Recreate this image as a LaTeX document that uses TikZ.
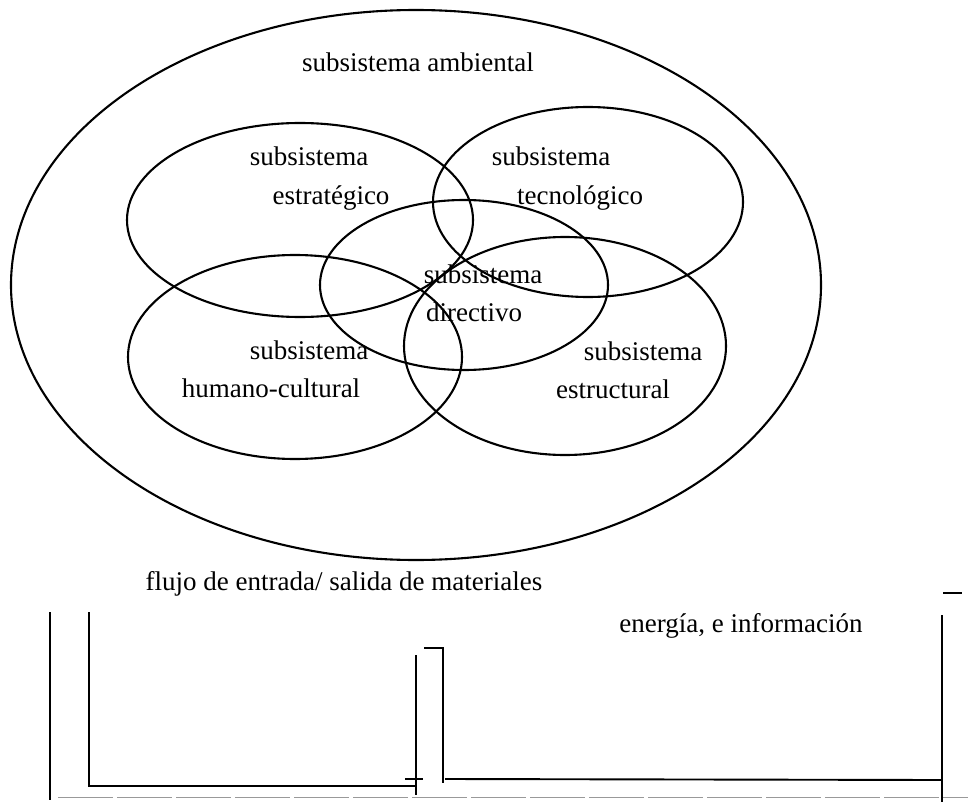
\documentclass[tikz,border=0pt]{standalone}
\usepackage{fontspec}
\setmainfont{Liberation Serif}
\usetikzlibrary{shapes.geometric}
\begin{document}
\begin{tikzpicture}[x=1pt,y=-1pt,
  sub/.style={draw=black,line width=2.1pt,ellipse,inner sep=0pt},
  lbl/.style={inner sep=0pt,text height=12pt,text depth=0pt,font=\fontsize{27}{32}\selectfont},
  ln/.style={line width=1.9pt},
  thin/.style={draw=gray!80,line width=0.8pt,dash pattern=on 55pt off 4pt}]
\useasboundingbox (0,0) rectangle (968,802);
% ellipses
\node[sub,minimum width=810pt,minimum height=550pt] (amb) at (416,285) {};
\node[sub,minimum width=346pt,minimum height=194pt] (est) at (300,220) {};
\node[sub,minimum width=310pt,minimum height=190pt] (tec) at (588,202) {};
\node[sub,minimum width=288pt,minimum height=170pt] (dir) at (464,285) {};
\node[sub,minimum width=334pt,minimum height=204pt] (hum) at (295,357) {};
\node[sub,minimum width=322pt,minimum height=218pt] (str) at (565,346) {};
% labels
\node[lbl] (tamb) at (418,66) {subsistema ambiental};
\node[lbl] (test1) at (309,160) {subsistema};
\node[lbl] (test2) at (331,199) {estratégico};
\node[lbl] (ttec1) at (551,160) {subsistema};
\node[lbl] (ttec2) at (580,199) {tecnológico};
\node[lbl] (tdir1) at (483,277) {subsistema};
\node[lbl] (tdir2) at (474,315) {directivo};
\node[lbl] (thum1) at (309,353) {subsistema};
\node[lbl] (thum2) at (271,391) {humano-cultural};
\node[lbl] (tstr1) at (643,354) {subsistema};
\node[lbl] (tstr2) at (613,392) {estructural};
\node[lbl] (tflu) at (344,584) {flujo de entrada/ salida de materiales};
\node[lbl] (tene) at (741,626) {energía, e información};
% bottom lines
\coordinate (a1) at (50,612); \coordinate (a2) at (50,800);
\coordinate (b1) at (89,612); \coordinate (b2) at (89,786); \coordinate (b3) at (415,786);
\coordinate (c1) at (416,655); \coordinate (c2) at (416,795);
\coordinate (d1) at (405,779); \coordinate (d2) at (423,779);
\coordinate (e1) at (424,648); \coordinate (e2) at (443,648); \coordinate (e3) at (443,783);
\coordinate (f1) at (445,779); \coordinate (f2) at (942,780);
\coordinate (g1) at (942,615); \coordinate (g2) at (942,802);
\coordinate (h1) at (943,593); \coordinate (h2) at (962,593);
\coordinate (k1) at (58,797); \coordinate (k2) at (968,797);
\draw[thin] (k1) -- (k2);
\draw[ln] (a1) -- (a2);
\draw[ln] (b1) -- (b2) -- (b3);
\draw[ln] (c1) -- (c2);
\draw[ln] (d1) -- (d2);
\draw[ln] (e1) -- (e2) -- (e3);
\draw[ln] (f1) -- (f2);
\draw[ln] (g1) -- (g2);
\draw[ln] (h1) -- (h2);
\end{tikzpicture}
\end{document}
